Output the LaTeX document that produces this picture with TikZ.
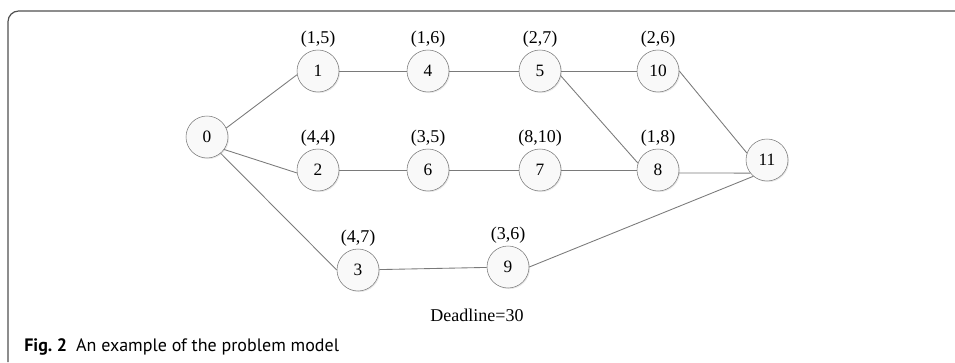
\documentclass[tikz,border=0pt]{standalone}
\usepackage{fontspec}
\setmainfont{Liberation Serif}
\newfontfamily\capfont{PT Sans}
\usepackage{xcolor}
\usepackage{tikz}
\usetikzlibrary{positioning,shadows}

\definecolor{edgegray}{HTML}{7A7A7A}
\definecolor{framegray}{HTML}{505050}

\begin{document}
\begin{tikzpicture}[
  x=0.75pt,y=0.75pt,
  task/.style={circle,draw=edgegray,fill=gray!5,minimum size=31.5pt,inner sep=0pt,
    font=\fontsize{13}{15}\selectfont,
    drop shadow={shadow xshift=0.8pt,shadow yshift=-0.8pt,opacity=0.18}},
  cost/.style={font=\fontsize{13.5}{15}\selectfont,inner sep=1.5pt,label distance=0pt},
  link/.style={draw=edgegray,line width=0.65pt},
  frame/.style={draw=framegray,line width=0.9pt,rounded corners=8pt}
]
\useasboundingbox (0,0) rectangle (955,362);

% outer frame
\draw[frame] (8,0) |- (955,351);

% activity nodes with (duration,cost) above
\node[task] (n0) at (207,225) {0};
\node[task,label={[cost]above:(1,5)}] (n1) at (318,291) {1};
\node[task,label={[cost]above:(1,6)}] (n4) at (428,291) {4};
\node[task,label={[cost]above:(2,7)}] (n5) at (540,291) {5};
\node[task,label={[cost]above:(2,6)}] (n10) at (658,291) {10};
\node[task,label={[cost]above:(4,4)}] (n2) at (318,192) {2};
\node[task,label={[cost]above:(3,5)}] (n6) at (428,192) {6};
\node[task,label={[cost]above:(8,10)}] (n7) at (540,192) {7};
\node[task,label={[cost]above:(1,8)}] (n8) at (658,192) {8};
\node[task] (n11) at (767,202) {11};
\node[task,label={[cost]above:(4,7)}] (n3) at (358,92) {3};
\node[task,label={[cost]above:(3,6)}] (n9) at (508,95) {9};

\node[font=\fontsize{13.5}{15}\selectfont] (deadline) at (477,47) {Deadline=30};
\node[anchor=base west,inner sep=0pt,font=\capfont\fontsize{13.5}{15}\selectfont] (caption) at (24,11)
  {\textbf{Fig.~2}\hspace{0.5em}An example of the problem model};

% precedence links, attached at the circle rims
\draw[link] (n0.25) -- (n1.190);
\draw[link] (n0.-36) -- (n2.188);
\draw[link] (n0.-50) -- (n3.west);
\draw[link] (n1) -- (n4);
\draw[link] (n4) -- (n5);
\draw[link] (n5) -- (n10);
\draw[link] (n5.-13) -- (n8.161);
\draw[link] (n2) -- (n6);
\draw[link] (n6) -- (n7);
\draw[link] (n7) -- (n8);
\draw[link] (n10.east) -- (n11.161);
\draw[link] (n8.-8) -- (n11.218);
\draw[link] (n3) -- (n9);
\draw[link] (n9.east) -- (n11.230);
\end{tikzpicture}
\end{document}
